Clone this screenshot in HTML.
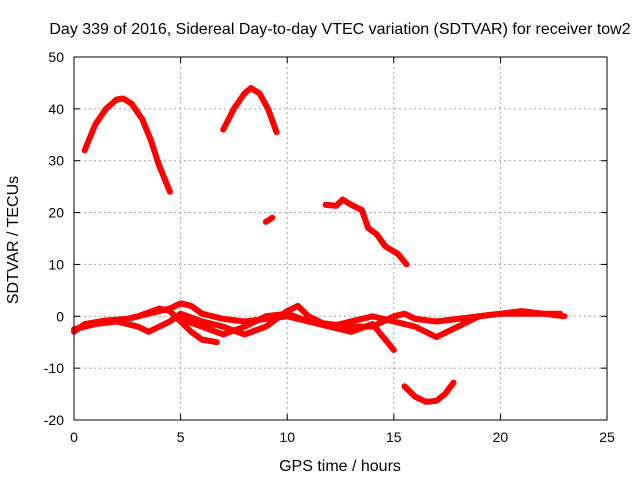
<!DOCTYPE html>
<html><head><meta charset="utf-8"><style>
body{margin:0;background:#fff}
svg{display:block;font-family:"Liberation Sans",sans-serif}
</style></head><body>
<svg id="chart" width="640" height="480" viewBox="0 0 640 480">
<rect width="640" height="480" fill="#fff"/>
<text x="340" y="34" font-size="16" text-anchor="middle">Day 339 of 2016, Sidereal Day-to-day VTEC variation (SDTVAR) for receiver tow2</text>
<g id="grid"></g><g id="series"></g><g id="axes"></g>
<text x="340" y="471" font-size="16" text-anchor="middle">GPS time / hours</text>
<text transform="translate(18,240) rotate(-90)" font-size="16" text-anchor="middle">SDTVAR / TECUs</text>
</svg>
<script>
const xTicks=[0,5,10,15,20,25];
const yTicks=[-20,-10,0,10,20,30,40,50];
const sAx=[0.5,1,1.5,2,2.3,2.7,3.2,3.6,4,4.5];
const sAy=[32,37,40,41.8,42,41,38,34,29,24];
const sBx=[7,7.5,8,8.3,8.7,9.1,9.5];
const sBy=[36,40,43,44,43,40,35.5];
const sCx=[9,9.3];
const sCy=[18.2,19];
const sDx=[11.8,12.3,12.6,13,13.5,13.8,14.2,14.6,15.2,15.6];
const sDy=[21.5,21.3,22.5,21.5,20.5,17,15.8,13.5,12,10];
const sEx=[15.5,16,16.5,17,17.4,17.8];
const sEy=[-13.5,-15.5,-16.5,-16.3,-15,-12.8];
const sFx=[0,0.5,1.5,2.5,3.5,4.5,5,5.5,6,7,8,9,10,11,12,13,14,15,15.5,16,17,18,19,20,21,22,23];
const sFy=[-3,-1.5,-0.8,-0.5,0.5,1.5,2.5,2,0.5,-0.5,-1,-0.5,0,-1,-1.5,-2,-2,0,0.5,-0.5,-1,-0.5,0,0.5,0.5,0.5,0];
const sGx=[0,1,2,3,4,4.5,5,5.5,6,6.7];
const sGy=[-2.5,-1.5,-1,0,1.5,1,-1,-3,-4.5,-5];
const sHx=[2,3,3.5,4.5,5,6,7,8,9,10,10.5,11,12,13,14,14.5,15];
const sHy=[-1,-2,-3,-1,0.5,-1,-2,-3.5,-2,1,2,0,-2,-3,-1.5,-4,-6.5];
const sIx=[5,6,7,8,9,10,11,12,13,14,15,15.5,16,17,18,19,20,21,22,22.8];
const sIy=[-0.5,-2,-3.5,-2,0,0.5,-1,-2,-1,0,-1,-1.5,-2,-4,-2,0,0.5,1,0.5,0.5];
const L=74,R=607,T=57,B=420;
const X=v=>L+(v-0)/25*(R-L);
const Y=v=>B-(v+20)/70*(B-T);
const NS="http://www.w3.org/2000/svg";
function mk(tag,attrs,parent,text){const e=document.createElementNS(NS,tag);for(const k in attrs)e.setAttribute(k,attrs[k]);if(text!==undefined)e.textContent=text;parent.appendChild(e);return e;}
const grid=document.getElementById('grid'),axes=document.getElementById('axes'),ser=document.getElementById('series');
xTicks.forEach(t=>{
 if(t>0&&t<25){const g=mk('line',{x1:X(t),x2:X(t),y1:T,y2:B,stroke:'#a0a0a0','stroke-dasharray':'2,3'},grid);
 
 }
 const tx=mk('text',{x:X(t),y:B+22,'font-size':14,'text-anchor':'middle'},axes,String(t));
 
 
 mk('line',{x1:X(t),x2:X(t),y1:B,y2:B-6,stroke:'#000'},axes);
 mk('line',{x1:X(t),x2:X(t),y1:T,y2:T+6,stroke:'#000'},axes);
});
yTicks.forEach(t=>{
 if(t>-20&&t<50){const g=mk('line',{x1:L,x2:R,y1:Y(t),y2:Y(t),stroke:'#a0a0a0','stroke-dasharray':'2,3'},grid);
 
 }
 const tx=mk('text',{x:L-10,y:Y(t)+5,'font-size':14,'text-anchor':'end'},axes,String(t));
 
 
 mk('line',{x1:L,x2:L+6,y1:Y(t),y2:Y(t),stroke:'#000'},axes);
 mk('line',{x1:R,x2:R-6,y1:Y(t),y2:Y(t),stroke:'#000'},axes);
});
const frame=mk('rect',{x:L,y:T,width:R-L,height:B-T,fill:'none',stroke:'#000'},axes);


const all=[[sAx,sAy],[sBx,sBy],[sCx,sCy],[sDx,sDy],[sEx,sEy],[sFx,sFy],[sGx,sGy],[sHx,sHy],[sIx,sIy]];
all.forEach(([xs,ys])=>{
 const p=mk('polyline',{points:xs.map((x,i)=>X(x)+','+Y(ys[i])).join(' '),fill:'none',stroke:'#ff0000','stroke-width':6,'stroke-linejoin':'round','stroke-linecap':'round'},ser);
 
 
});
</script>
</body></html>
